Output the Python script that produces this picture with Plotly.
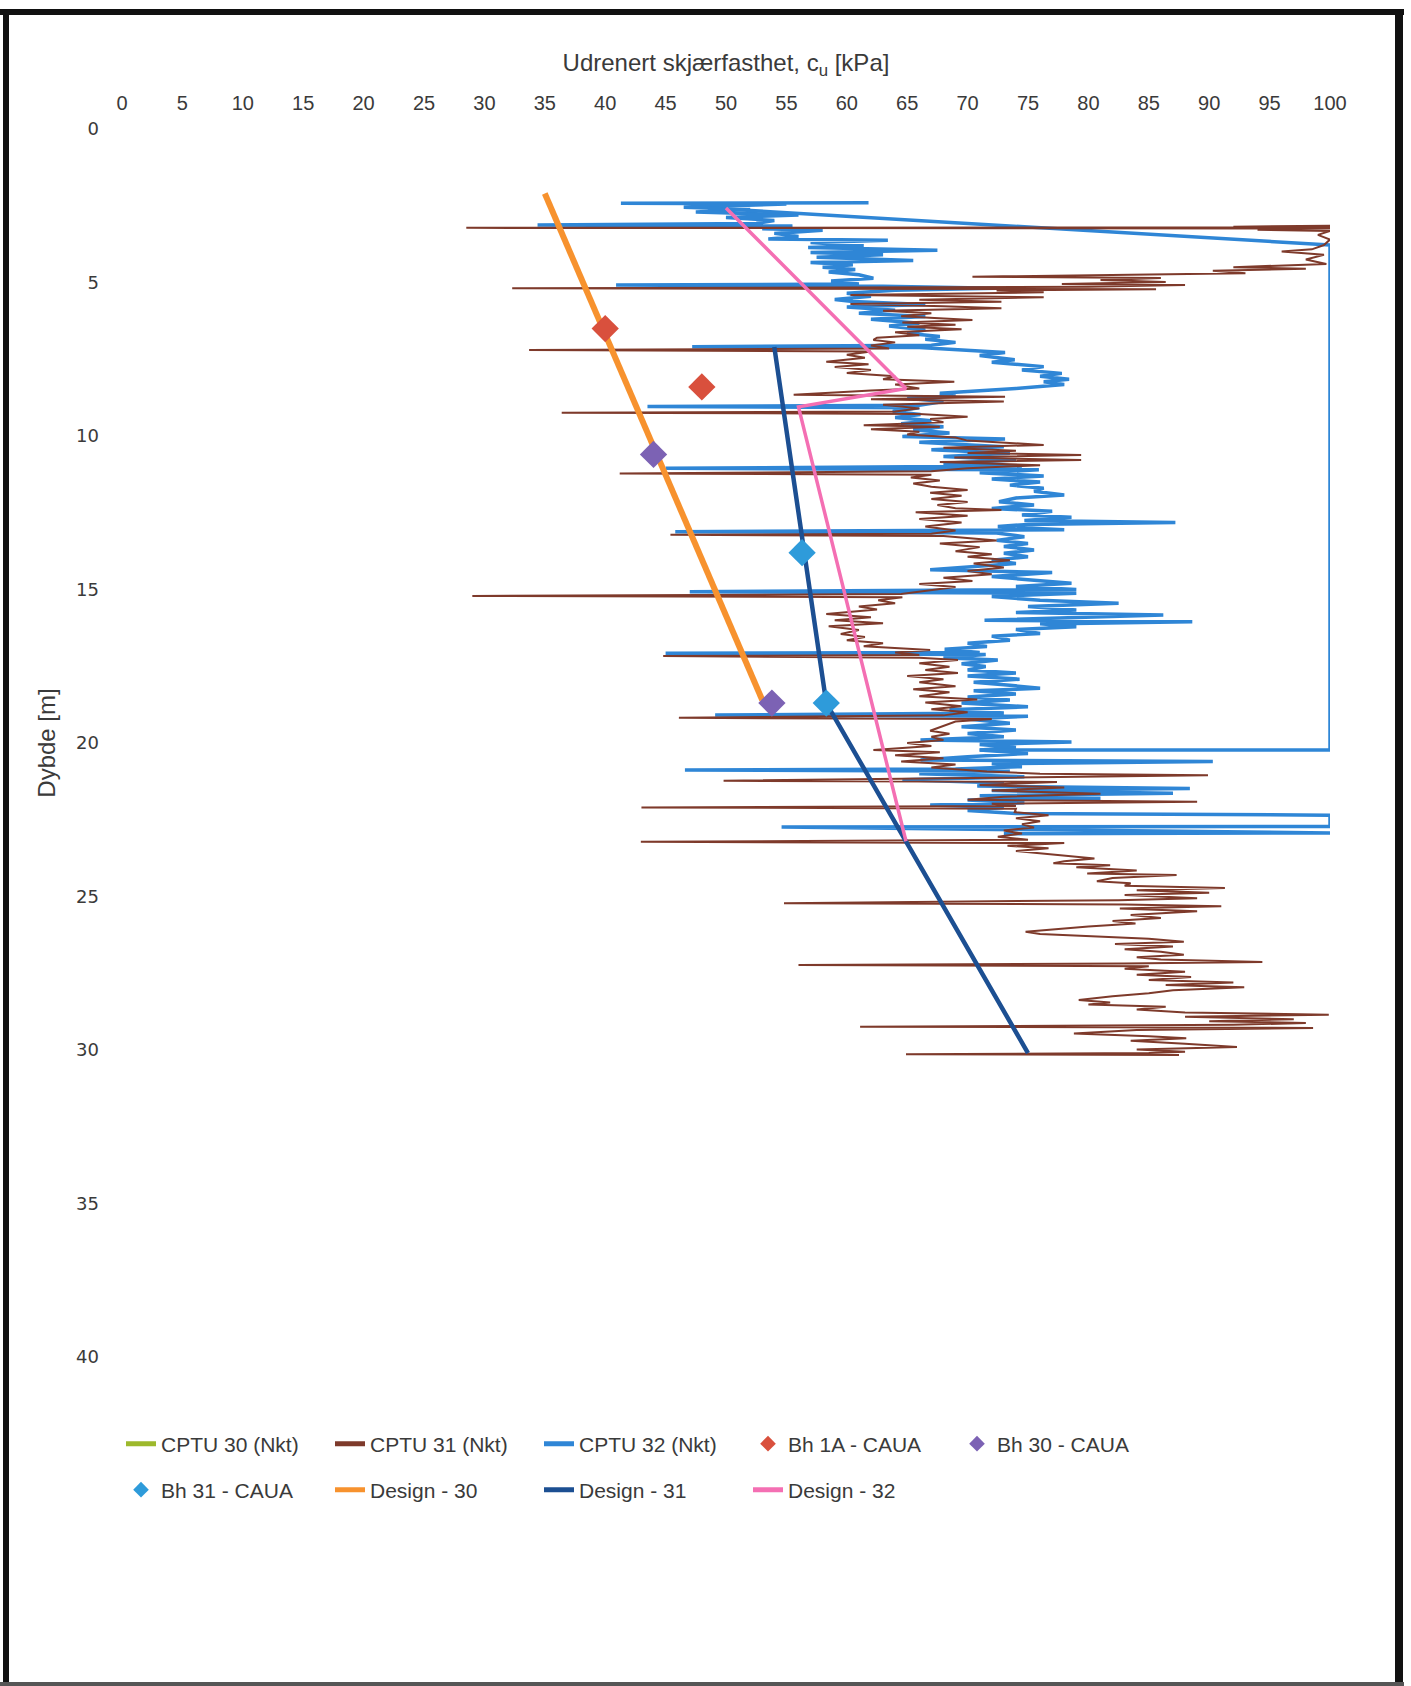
import plotly.graph_objects as go

# ---------------- data ----------------
cptu30_depth = []
cptu30_cu = []

cptu31_depth = [3.15, 3.18, 3.20, 3.22, 3.24, 3.28, 3.32, 3.45, 3.60, 3.78, 3.92, 3.99, 4.10, 4.25, 4.40, 4.50, 4.55, 4.62, 4.70, 4.81,
                4.85, 4.92, 4.98, 5.05, 5.08, 5.14, 5.19, 5.22, 5.26, 5.32, 5.41, 5.48, 5.56, 5.63, 5.70, 5.77, 5.84, 5.92, 6.00, 6.10,
                6.22, 6.30, 6.38, 6.44, 6.52, 6.62, 6.72, 6.80, 6.87, 6.95, 7.05, 7.15, 7.20, 7.25, 7.35, 7.45, 7.58, 7.66, 7.75, 7.85,
                7.95, 8.05, 8.15, 8.23, 8.32, 8.45, 8.52, 8.60, 8.66, 8.72, 8.80, 8.88, 8.98, 9.10, 9.20, 9.24, 9.28, 9.37, 9.45, 9.55,
                9.65, 9.70, 9.78, 9.86, 9.95, 10.05, 10.15, 10.29, 10.38, 10.48, 10.55, 10.62, 10.70, 10.78, 10.85, 10.95, 11.05, 11.15, 11.22, 11.26,
                11.35, 11.45, 11.55, 11.65, 11.76, 11.85, 11.95, 12.05, 12.15, 12.25, 12.35, 12.41, 12.48, 12.60, 12.70, 12.82, 12.95, 13.08, 13.18, 13.22,
                13.26, 13.40, 13.50, 13.62, 13.75, 13.85, 13.93, 14.05, 14.15, 14.28, 14.40, 14.50, 14.62, 14.72, 14.82, 14.92, 15.05, 15.15, 15.21, 15.25,
                15.35, 15.45, 15.55, 15.65, 15.80, 15.90, 16.00, 16.10, 16.20, 16.32, 16.45, 16.55, 16.65, 16.75, 16.85, 16.97, 17.05, 17.13, 17.17, 17.22,
                17.30, 17.40, 17.52, 17.62, 17.72, 17.82, 17.92, 18.02, 18.15, 18.25, 18.35, 18.48, 18.58, 18.68, 18.80, 18.90, 19.00, 19.10, 19.18, 19.22,
                19.30, 19.45, 19.60, 19.70, 19.80, 19.90, 20.00, 20.10, 20.23, 20.30, 20.40, 20.50, 20.60, 20.70, 20.80, 20.93, 21.00, 21.05, 21.12, 21.23,
                21.27, 21.37, 21.45, 21.55, 21.65, 21.75, 21.85, 21.91, 21.98, 22.05, 22.10, 22.14, 22.25, 22.35, 22.45, 22.55, 22.65, 22.75, 22.85, 22.95,
                23.05, 23.15, 23.22, 23.26, 23.35, 23.43, 23.52, 23.62, 23.70, 23.76, 23.85, 23.92, 23.98, 24.05, 24.15, 24.25, 24.30, 24.40, 24.50, 24.57,
                24.65, 24.72, 24.80, 24.88, 24.95, 25.06, 25.12, 25.22, 25.26, 25.32, 25.39, 25.48, 25.60, 25.70, 25.80, 25.88, 25.98, 26.08, 26.15, 26.22,
                26.30, 26.38, 26.47, 26.55, 26.63, 26.72, 26.80, 26.90, 26.98, 27.05, 27.13, 27.18, 27.23, 27.27, 27.35, 27.45, 27.55, 27.62, 27.72, 27.80,
                27.88, 27.96, 28.05, 28.15, 28.25, 28.37, 28.45, 28.52, 28.59, 28.68, 28.78, 28.85, 28.92, 29.00, 29.06, 29.12, 29.18, 29.24, 29.28, 29.35,
                29.46, 29.55, 29.62, 29.70, 29.80, 29.90, 29.98, 30.06, 30.10, 30.14, 30.16]
cptu31_cu = [100, 92.0, 100, 28.5, 100, 94.0, 100, 99.0, 100, 99.5, 98.5, 96.0, 99.5, 98.0, 99.7, 92.0, 98.0, 90.3, 93.0, 70.4,
             86.0, 81.0, 86.4, 77.8, 88.0, 80.0, 32.3, 85.6, 72.4, 76.3, 60.3, 76.3, 66.0, 72.8, 60.3, 68.0, 72.8, 63.0, 67.0, 64.5,
             70.4, 64.6, 69.0, 65.0, 69.5, 64.0, 66.0, 62.5, 62.2, 64.0, 62.0, 63.5, 33.7, 62.0, 60.0, 61.5, 58.3, 61.8, 59.0, 62.0,
             60.0, 64.0, 63.0, 68.9, 64.0, 66.0, 62.0, 58.0, 55.6, 73.1, 62.0, 73.0, 63.0, 66.0, 64.0, 36.4, 66.0, 70.0, 66.9, 68.0,
             61.4, 67.7, 62.0, 66.0, 65.0, 69.0, 70.0, 76.3, 68.0, 74.0, 70.0, 79.4, 68.9, 79.4, 67.7, 76.0, 70.0, 67.0, 41.2, 67.0,
             65.3, 67.7, 65.5, 67.0, 70.0, 66.9, 69.5, 67.0, 70.0, 67.5, 69.0, 72.8, 65.7, 70.0, 66.0, 69.5, 66.5, 69.0, 67.0, 45.4,
             68.0, 72.4, 67.7, 71.0, 69.0, 72.0, 70.0, 73.5, 70.5, 73.0, 70.0, 72.0, 68.0, 70.4, 66.0, 69.0, 66.5, 64.5, 29.0, 64.6,
             62.6, 64.0, 61.0, 62.5, 58.3, 62.0, 59.0, 63.0, 58.5, 61.0, 59.5, 61.5, 60.0, 63.0, 61.4, 66.9, 64.0, 66.0, 44.8, 66.0,
             69.2, 66.0, 68.5, 66.5, 69.2, 65.0, 68.0, 66.0, 69.0, 65.5, 68.5, 66.0, 70.8, 66.5, 69.5, 67.0, 70.0, 68.0, 46.1, 72.0,
             69.0, 68.0, 66.9, 68.5, 67.0, 68.0, 65.0, 67.0, 62.2, 67.7, 64.0, 68.0, 64.5, 69.0, 67.0, 71.6, 76.0, 89.9, 74.0, 49.8,
             77.4, 71.0, 78.0, 72.0, 81.0, 73.0, 70.0, 89.0, 72.0, 74.0, 43.0, 74.0, 73.9, 76.7, 74.0, 76.0, 74.5, 75.5, 73.0, 74.5,
             72.5, 75.0, 42.95, 78.0, 73.3, 76.7, 74.0, 77.0, 78.8, 80.5, 78.0, 77.1, 81.8, 79.0, 84.0, 79.9, 87.3, 82.0, 80.7, 83.5,
             83.0, 91.3, 84.0, 90.0, 83.0, 89.0, 82.5, 54.8, 83.0, 91.0, 82.6, 89.0, 83.5, 86.0, 82.0, 83.9, 80.0, 76.5, 74.8, 76.0,
             81.0, 85.0, 87.9, 82.2, 87.0, 83.0, 86.0, 87.9, 84.0, 86.0, 94.4, 83.0, 56.0, 85.0, 83.0, 88.0, 84.0, 88.5, 85.0, 92.0,
             86.4, 92.9, 87.0, 85.0, 82.0, 79.2, 81.8, 80.0, 86.4, 84.0, 88.0, 99.9, 88.0, 97.0, 90.0, 98.0, 92.0, 61.1, 98.6, 84.0,
             78.8, 85.0, 88.1, 83.5, 88.0, 92.3, 84.0, 88.0, 85.0, 64.9, 87.5]

cptu32_depth = [2.40, 2.42, 2.44, 2.55, 2.62, 2.70, 2.80, 2.88, 2.98, 3.08, 3.13, 3.16, 3.25, 3.30, 3.40, 3.50, 3.58, 3.62, 3.70, 3.80,
                3.86, 3.95, 4.02, 4.10, 4.18, 4.28, 4.35, 4.42, 4.50, 4.58, 4.66, 4.75, 4.86, 4.95, 5.05, 5.08, 5.12, 5.19, 5.25, 5.35,
                5.45, 5.55, 5.62, 5.72, 5.80, 5.90, 6.00, 6.11, 6.20, 6.33, 6.42, 6.55, 6.65, 6.76, 6.85, 6.95, 7.04, 7.09, 7.12, 7.20,
                7.28, 7.38, 7.52, 7.60, 7.74, 7.85, 7.96, 8.05, 8.15, 8.23, 8.32, 8.45, 8.52, 8.61, 8.70, 8.77, 8.88, 9.00, 9.04, 9.08,
                9.20, 9.30, 9.40, 9.50, 9.60, 9.70, 9.80, 9.90, 10.02, 10.10, 10.20, 10.35, 10.45, 10.56, 10.67, 10.78, 10.89, 10.98, 11.05, 11.10,
                11.20, 11.30, 11.40, 11.50, 11.60, 11.70, 11.80, 11.92, 12.02, 12.14, 12.25, 12.36, 12.45, 12.57, 12.65, 12.75, 12.82, 12.88, 12.95, 13.05,
                13.12, 13.16, 13.28, 13.40, 13.50, 13.60, 13.71, 13.82, 13.93, 14.05, 14.15, 14.25, 14.36, 14.45, 14.58, 14.68, 14.80, 14.90, 15.00, 15.07,
                15.12, 15.23, 15.35, 15.45, 15.55, 15.67, 15.75, 15.83, 15.92, 16.00, 16.05, 16.12, 16.21, 16.30, 16.43, 16.52, 16.65, 16.75, 16.86, 16.95,
                17.05, 17.08, 17.12, 17.22, 17.30, 17.42, 17.51, 17.62, 17.72, 17.82, 17.92, 18.02, 18.12, 18.22, 18.30, 18.40, 18.50, 18.60, 18.70, 18.82,
                18.92, 19.02, 19.09, 19.13, 19.22, 19.36, 19.47, 19.58, 19.69, 19.80, 19.90, 19.97, 20.05, 20.15, 20.23, 20.34, 20.45, 20.55, 20.60, 20.68,
                20.77, 20.85, 20.88, 20.92, 21.00, 21.10, 21.20, 21.30, 21.40, 21.48, 21.55, 21.64, 21.72, 21.80, 21.86, 21.95, 22.02, 22.10, 22.20, 22.30,
                22.35, 22.72, 22.74, 22.93, 22.96]
cptu32_cu = [61.8, 41.3, 55.0, 46.5, 52.0, 47.5, 56.0, 50.0, 54.0, 52.5, 34.4, 55.5, 53.0, 58.0, 54.0, 56.0, 53.5, 63.4, 57.0, 61.4,
             56.8, 67.5, 57.0, 63.0, 57.5, 65.5, 57.0, 60.5, 58.0, 60.7, 58.5, 61.0, 62.2, 58.7, 61.0, 40.9, 63.0, 72.4, 64.0, 60.0,
             62.0, 59.0, 60.5, 66.5, 60.0, 64.0, 61.0, 66.5, 62.0, 66.0, 63.5, 66.5, 65.0, 67.7, 66.5, 69.0, 67.0, 47.2, 66.0, 69.2,
             73.1, 71.0, 73.9, 72.0, 76.3, 74.5, 77.8, 76.0, 78.4, 76.3, 78.0, 74.0, 71.0, 67.7, 69.0, 65.0, 68.0, 66.0, 43.5, 66.0,
             63.8, 66.1, 64.0, 67.0, 64.5, 68.0, 65.5, 68.5, 64.6, 73.1, 66.0, 73.0, 67.0, 73.5, 68.0, 74.0, 68.0, 74.5, 45.0, 75.9,
             71.0, 76.3, 72.0, 76.0, 73.5, 76.3, 75.5, 78.0, 74.0, 72.6, 75.5, 72.0, 77.0, 74.5, 78.6, 74.7, 87.2, 75.0, 72.5, 78.0,
             45.8, 72.4, 74.7, 72.4, 75.0, 73.0, 75.5, 73.0, 75.0, 72.0, 74.0, 70.5, 66.9, 77.0, 72.0, 75.0, 78.6, 74.0, 79.0, 47.0,
             79.0, 72.0, 76.0, 82.5, 75.0, 79.0, 74.0, 86.2, 77.0, 71.4, 88.6, 76.0, 79.0, 74.0, 76.0, 72.0, 73.5, 70.0, 71.6, 68.1,
             71.0, 45.0, 71.5, 68.0, 72.5, 69.5, 71.5, 70.0, 74.0, 70.0, 74.3, 70.5, 73.5, 76.0, 70.5, 74.0, 70.0, 73.5, 69.5, 75.0,
             68.5, 73.0, 49.1, 75.0, 70.0, 73.5, 69.5, 74.0, 70.0, 73.0, 66.1, 78.6, 71.0, 74.0, 71.0, 75.0, 70.0, 66.1, 90.3, 72.0,
             74.5, 69.0, 46.6, 73.5, 66.0, 74.7, 64.6, 73.0, 70.8, 88.4, 72.0, 87.0, 71.0, 81.0, 70.0, 74.7, 66.9, 73.0, 70.0, 74.0,
             100, 100, 54.6, 100, 73.0]
# separate spurious segment of CPTU 32 (diagonal to 100 and vertical at 100)
cptu32_extra_depth = [2.57, 3.78, 20.23, 20.23]
cptu32_extra_cu = [48.5, 100, 100, 71.0]

bh1a_depth = [6.5, 8.4]
bh1a_cu = [40.0, 48.0]
bh30_depth = [10.6, 18.7]
bh30_cu = [44.0, 53.8]
bh31_depth = [13.8, 18.7]
bh31_cu = [56.3, 58.3]

design30_depth = [2.1, 18.6]
design30_cu = [35.0, 53.0]
design31_depth = [7.1, 18.7, 30.1]
design31_cu = [54.0, 58.3, 75.0]
design32_depth = [2.57, 8.45, 9.05, 23.2]
design32_cu = [50.0, 64.9, 56.0, 64.9]

x_ticks = list(range(0, 101, 5))
y_ticks = list(range(0, 41, 5))

# ---------------- figure ----------------
W, H = 1411, 1686
ML, MR, MT, MB = 122, 81, 129, 329
PW, PH = W - ML - MR, H - MT - MB

FONT = "Liberation Sans, Arial, sans-serif"
TXT = "#3a3a3a"

def px_x(px):
    return (px - ML) / PW

def px_y(py):
    return (H - MB - py) / PH

fig = go.Figure()

fig.add_trace(go.Scatter(x=cptu30_cu if cptu30_cu else [None], y=cptu30_depth if cptu30_depth else [None],
                         mode="lines", name="CPTU 30 (Nkt)", line=dict(color="#9DB92C", width=2),
                         legend="legend", legendrank=1))
fig.add_trace(go.Scatter(x=cptu32_cu + [None] + cptu32_extra_cu, y=cptu32_depth + [None] + cptu32_extra_depth,
                         mode="lines", name="CPTU 32 (Nkt)", line=dict(color="#2F86D6", width=3.5),
                         legend="legend", legendrank=3))
fig.add_trace(go.Scatter(x=cptu31_cu, y=cptu31_depth, mode="lines", name="CPTU 31 (Nkt)",
                         line=dict(color="#7E3A2B", width=2), legend="legend", legendrank=2))

fig.add_trace(go.Scatter(x=design30_cu, y=design30_depth, mode="lines", name="Design - 30",
                         line=dict(color="#F7922E", width=6), legend="legend2", legendrank=7))
fig.add_trace(go.Scatter(x=design31_cu, y=design31_depth, mode="lines", name="Design - 31",
                         line=dict(color="#1C4F92", width=4.5), legend="legend2", legendrank=8))
fig.add_trace(go.Scatter(x=design32_cu, y=design32_depth, mode="lines", name="Design - 32",
                         line=dict(color="#F46FB3", width=3.5), legend="legend2", legendrank=9))

fig.add_trace(go.Scatter(x=bh1a_cu, y=bh1a_depth, mode="markers", name="Bh 1A - CAUA",
                         marker=dict(symbol="diamond", size=21, color="#D9503D"),
                         legend="legend", legendrank=4))
fig.add_trace(go.Scatter(x=bh30_cu, y=bh30_depth, mode="markers", name="Bh 30 - CAUA",
                         marker=dict(symbol="diamond", size=21, color="#7C62B4"),
                         legend="legend", legendrank=5))
fig.add_trace(go.Scatter(x=bh31_cu, y=bh31_depth, mode="markers", name="Bh 31 - CAUA",
                         marker=dict(symbol="diamond", size=21, color="#2E9BDA"),
                         legend="legend2", legendrank=6))

legend_common = dict(orientation="h", xanchor="left", yanchor="middle",
                     font=dict(family=FONT, size=21, color=TXT),
                     bgcolor="rgba(0,0,0,0)", entrywidth=164, entrywidthmode="pixels",
                     itemsizing="constant", traceorder="normal")

fig.update_layout(
    width=W, height=H,
    margin=dict(l=ML, r=MR, t=MT, b=MB, autoexpand=False),
    paper_bgcolor="white", plot_bgcolor="white",
    showlegend=True,
    legend=dict(x=px_x(121), y=px_y(1444), **legend_common),
    legend2=dict(x=px_x(121), y=px_y(1490), **legend_common),
    xaxis=dict(range=[0, 100], side="top", tickvals=x_ticks, ticktext=[str(v) for v in x_ticks],
               showgrid=False, zeroline=False, showline=False, ticks="",
               tickfont=dict(family=FONT, size=20, color=TXT), ticklabelstandoff=14,
               title=dict(text="Udrenert skjærfasthet, c<sub>u</sub> [kPa]", standoff=13,
                          font=dict(family=FONT, size=24, color=TXT))),
    yaxis=dict(range=[40, 0], tickvals=y_ticks, ticktext=[str(v) for v in y_ticks],
               showgrid=False, zeroline=False, showline=False, ticks="",
               tickfont=dict(family="DejaVu Sans, Verdana, sans-serif", size=18, color=TXT),
               ticklabelstandoff=22,
               title=dict(text="Dybde [m]", standoff=13, font=dict(family=FONT, size=24, color=TXT))),
    shapes=[
        dict(type="line", xref="paper", yref="paper", x0=px_x(0), x1=px_x(1404), y0=px_y(12), y1=px_y(12),
             line=dict(color="#111111", width=6)),
        dict(type="line", xref="paper", yref="paper", x0=px_x(6), x1=px_x(6), y0=px_y(10), y1=px_y(1686),
             line=dict(color="#111111", width=6)),
        dict(type="line", xref="paper", yref="paper", x0=px_x(1399), x1=px_x(1399), y0=px_y(10), y1=px_y(1686),
             line=dict(color="#111111", width=8)),
        dict(type="line", xref="paper", yref="paper", x0=px_x(0), x1=px_x(1404), y0=px_y(1684), y1=px_y(1684),
             line=dict(color="#555555", width=4)),
    ],
)

fig.write_html("out.html")
